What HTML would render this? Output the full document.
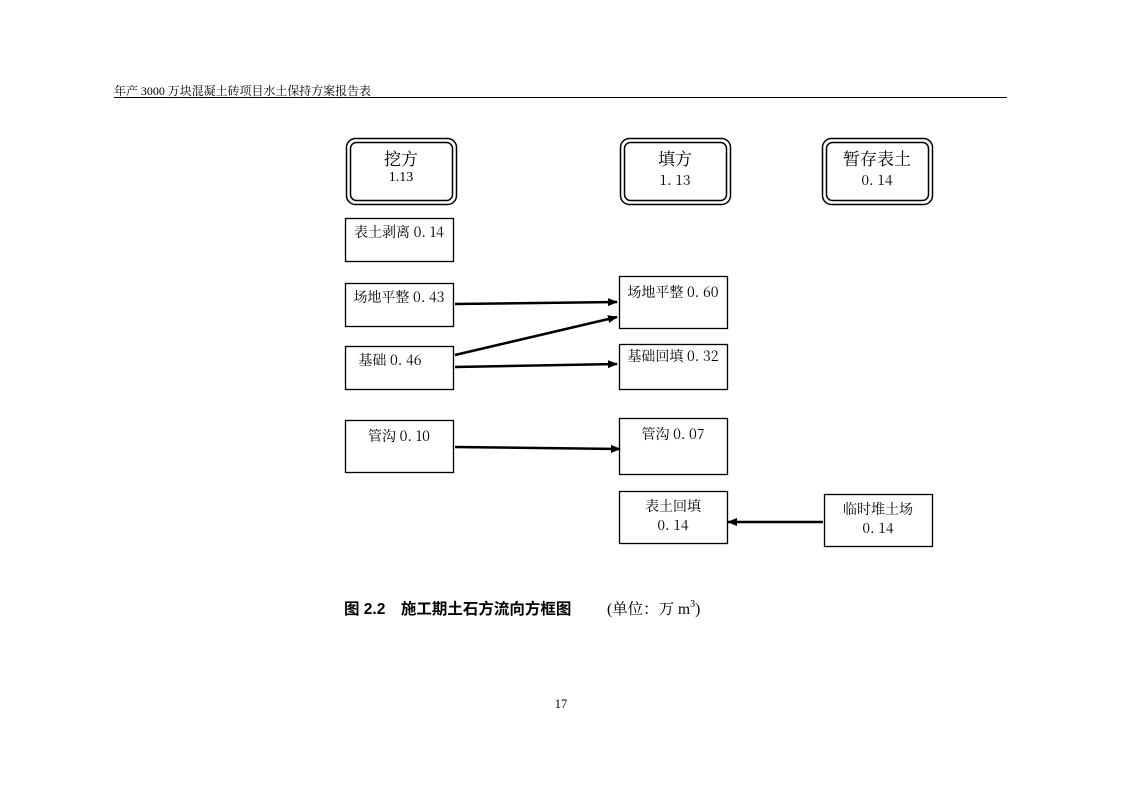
<!DOCTYPE html>
<html><head><meta charset="utf-8"><style>
html,body{margin:0;padding:0;background:#fff;}
svg{display:block;font-family:"Liberation Serif","Noto Serif CJK SC",serif;}
.c{font-family:"Noto Serif CJK SC",serif;}
</style></head><body>
<svg width="1122" height="793" viewBox="0 0 1122 793" xmlns="http://www.w3.org/2000/svg">
<defs><marker id="a" markerWidth="10" markerHeight="8" refX="9" refY="4" orient="auto" markerUnits="userSpaceOnUse"><path d="M0,0 L10,4 L0,8 Z" fill="#000"/></marker></defs>
<text x="114" y="95" font-size="12" textLength="257" lengthAdjust="spacingAndGlyphs">年产 3000 万块混凝土砖项目水土保持方案报告表</text>
<line x1="114" y1="97.5" x2="1007" y2="97.5" stroke="#000" stroke-width="1"/>
<g fill="none" stroke="#000">
<rect x="346.5" y="138.5" width="110" height="66" rx="9" stroke-width="1.5"/>
<rect x="350.5" y="142.5" width="102" height="58" rx="6" stroke-width="1.5"/>
<rect x="620.5" y="138.5" width="110" height="66" rx="9" stroke-width="1.5"/>
<rect x="624.5" y="142.5" width="102" height="58" rx="6" stroke-width="1.5"/>
<rect x="822.5" y="138.5" width="110" height="66" rx="9" stroke-width="1.5"/>
<rect x="826.5" y="142.5" width="102" height="58" rx="6" stroke-width="1.5"/>
<g stroke-width="1.3">
<rect x="345.5" y="218.5" width="108" height="43"/>
<rect x="345.5" y="283.5" width="108" height="43"/>
<rect x="345.5" y="346.5" width="108" height="43"/>
<rect x="345.5" y="420.5" width="108" height="52"/>
<rect x="619.5" y="276.5" width="108" height="52"/>
<rect x="619.5" y="344.5" width="108" height="45"/>
<rect x="619.5" y="418.5" width="108" height="56"/>
<rect x="619.5" y="491.5" width="108" height="52"/>
<rect x="824.5" y="494.5" width="108" height="52"/>
</g>
<g stroke-width="2.5" marker-end="url(#a)">
<line x1="455" y1="304" x2="617" y2="302"/>
<line x1="455" y1="355" x2="617" y2="317"/>
<line x1="455" y1="367" x2="617" y2="364"/>
<line x1="455" y1="447" x2="620" y2="449"/>
<line x1="823" y1="522" x2="728" y2="522"/>
</g>
</g>
<g font-size="14" text-anchor="middle" class="c">
<text x="401" y="165" font-size="17">挖方</text>
<text x="401" y="181" font-family="Liberation Serif">1.13</text>
<text x="675" y="165" font-size="17">填方</text>
<text x="675" y="185">1. 13</text>
<text x="877" y="165" font-size="17">暂存表土</text>
<text x="877" y="185">0. 14</text>
<text x="399" y="237">表土剥离 0. 14</text>
<text x="399" y="302">场地平整 0. 43</text>
<text x="390" y="365">基础 0. 46</text>
<text x="399" y="441">管沟 0. 10</text>
<text x="673" y="297">场地平整 0. 60</text>
<text x="673" y="361">基础回填 0. 32</text>
<text x="673" y="439">管沟 0. 07</text>
<text x="673" y="511">表土回填</text>
<text x="673" y="530">0. 14</text>
<text x="878" y="514">临时堆土场</text>
<text x="878" y="533">0. 14</text>
</g>
<text x="344" y="614" font-size="15.5" font-weight="bold" font-family="'Liberation Sans','Noto Sans CJK SC',sans-serif">图 2.2　施工期土石方流向方框图</text>
<text x="607" y="614" font-size="15.5">(单位：万 m<tspan font-size="10" dy="-7">3</tspan><tspan dy="7">)</tspan></text>
<text x="561" y="708" font-size="12.5" text-anchor="middle">17</text>
</svg>
</body></html>
